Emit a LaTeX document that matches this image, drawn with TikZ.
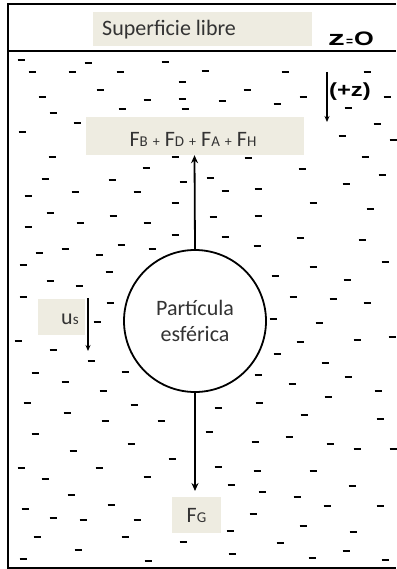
\documentclass[tikz,border=0pt]{standalone}
\usepackage{fontspec}
\usepackage{graphicx}
\setmainfont{Carlito}
\newfontfamily\boldsans{Liberation Sans}
\usetikzlibrary{arrows.meta}
\definecolor{beige}{RGB}{238,236,225}
\newcommand\mysub[1]{{\fontsize{15}{15}\selectfont #1}}
\newcommand\myplus{\hspace{5pt}{\fontsize{14}{14}\selectfont +}\hspace{5pt}}
\begin{document}
\begin{tikzpicture}[x=1pt,y=-1pt,
  frame/.style={line width=1.8pt},
  dashmark/.style={line width=2.3pt},
  labelbox/.style={fill=beige,inner sep=0pt,text=black!80},
  force/.style={line width=1.8pt,-{Stealth[length=8pt,width=7pt]}},
  thinarrow/.style={line width=1.1pt,-{Stealth[length=6pt,width=5pt]}}]
\useasboundingbox (0,0) rectangle (396,569);
% frame
\draw[frame] (396,4) -- (8,4) -- (8,568) -- (396,568);
\draw[frame] (8,51) -- (396,51);
% dashes (water)
\foreach \x/\y in {21/60,32/72,72/72,88/63,120/72,165/62,205/71,285/72,367/72,182/82,42/97,100/90,147/100,182/99,222/101,247/90,277/104,303/97,387/97,53/113,122/109,185/109,348/108,77/123,22/132,377/124,342/136,393/140,
52/157,175/157,248/158,365/157,146/168,302/169,382/175,45/179,112/180,183/182,210/178,346/184,75/192,137/192,225/191,258/189,28/196,175/203,313/203,50/213,113/216,370/209,213/217,258/216,80/223,147/223,28/227,175/235,225/237,300/238,362/240,
65/249,99/255,121/245,152/249,257/246,39/253,23/265,109/272,50/281,79/286,275/276,313/267,347/280,385/262,23/297,110/303,293/297,333/299,367/303,97/322,273/319,319/323,18/341,53/350,300/342,357/340,392/337,91/361,277/354,325/363,35/373,125/372,258/375,65/382,348/377,292/384,103/391,328/397,378/391,
27/403,67/413,134/405,218/408,259/403,380/419,105/421,161/421,304/415,35/434,209/432,255/442,289/437,131/444,330/444,357/449,393/449,73/451,172/459,21/468,99/468,218/467,257/471,313/471,45/479,147/477,231/485,262/492,352/486,71/495,297/497,111/505,327/506,380/506,25/509,53/518,83/520,137/520,253/514,303/526,353/532,37/537,125/537,230/531,183/542,280/543,78/550,232/554,346/551,23/559,148/561,312/558,385/560}
  \draw[dashmark] (\x-3.5,\y) -- (\x+3.5,\y);
% surface label
\node[labelbox,minimum width=219pt,minimum height=34pt] (surf) at (202.5,29) {};
\node[anchor=west,inner sep=0pt,text=black!80,font=\fontsize{22}{22}\selectfont] (surftext) at (102,30) {Superficie libre};
\node[anchor=base west,inner sep=0pt,font=\boldsans\bfseries] (zzero) at (328,46) {\scalebox{1.6}[1]{\fontsize{21}{21}\selectfont z}\hspace{1pt}{\fontsize{12}{12}\selectfont =}\hspace{1pt}\scalebox{1.3}[1]{\fontsize{19.5}{19.5}\selectfont O}};
% +z direction
\coordinate (zstart) at (327,72);
\coordinate (zend) at (327,122);
\draw[thinarrow,line width=1.3pt] (zstart) -- (zend);
\node[anchor=west,inner sep=0pt,font=\boldsans\bfseries\fontsize{19}{19}\selectfont] (zlabel) at (329,92) {\scalebox{1.25}[1]{(+z)}};
% sum of forces box
\node[labelbox,minimum width=218pt,minimum height=38pt] (sum) at (194.5,136) {};
\node[inner sep=0pt,text=black!80,font=\fontsize{22}{22}\selectfont] (sumtext) at (193,139) {F\mysub{B}\myplus F\mysub{D}\myplus F\mysub{A}\myplus F\mysub{H}};
% particle
\node[circle,draw,line width=1.8pt,fill=white,minimum size=142pt,inner sep=0pt,align=center,text=black!80,font=\fontsize{22}{26}\selectfont] (part) at (195,321) {Partícula\\esférica};
\draw[force] (part.north) -- (sum.south);
% gravity
\coordinate (gtip) at (195,491);
\draw[force] (part.south) -- (gtip);
\node[labelbox,minimum width=49pt,minimum height=36pt,text=black!80,font=\fontsize{22}{22}\selectfont] (fg) at (196.5,515) {F\mysub{G}};
% settling velocity
\node[labelbox,minimum width=47pt,minimum height=36pt] (us) at (61.5,317) {};
\node[anchor=west,inner sep=0pt,text=black!80,font=\fontsize{22}{22}\selectfont] (ustext) at (61,319) {u\mysub{s}};
\coordinate (usstart) at (88,298);
\coordinate (usend) at (88,351);
\draw[thinarrow] (usstart) -- (usend);
\end{tikzpicture}
\end{document}
